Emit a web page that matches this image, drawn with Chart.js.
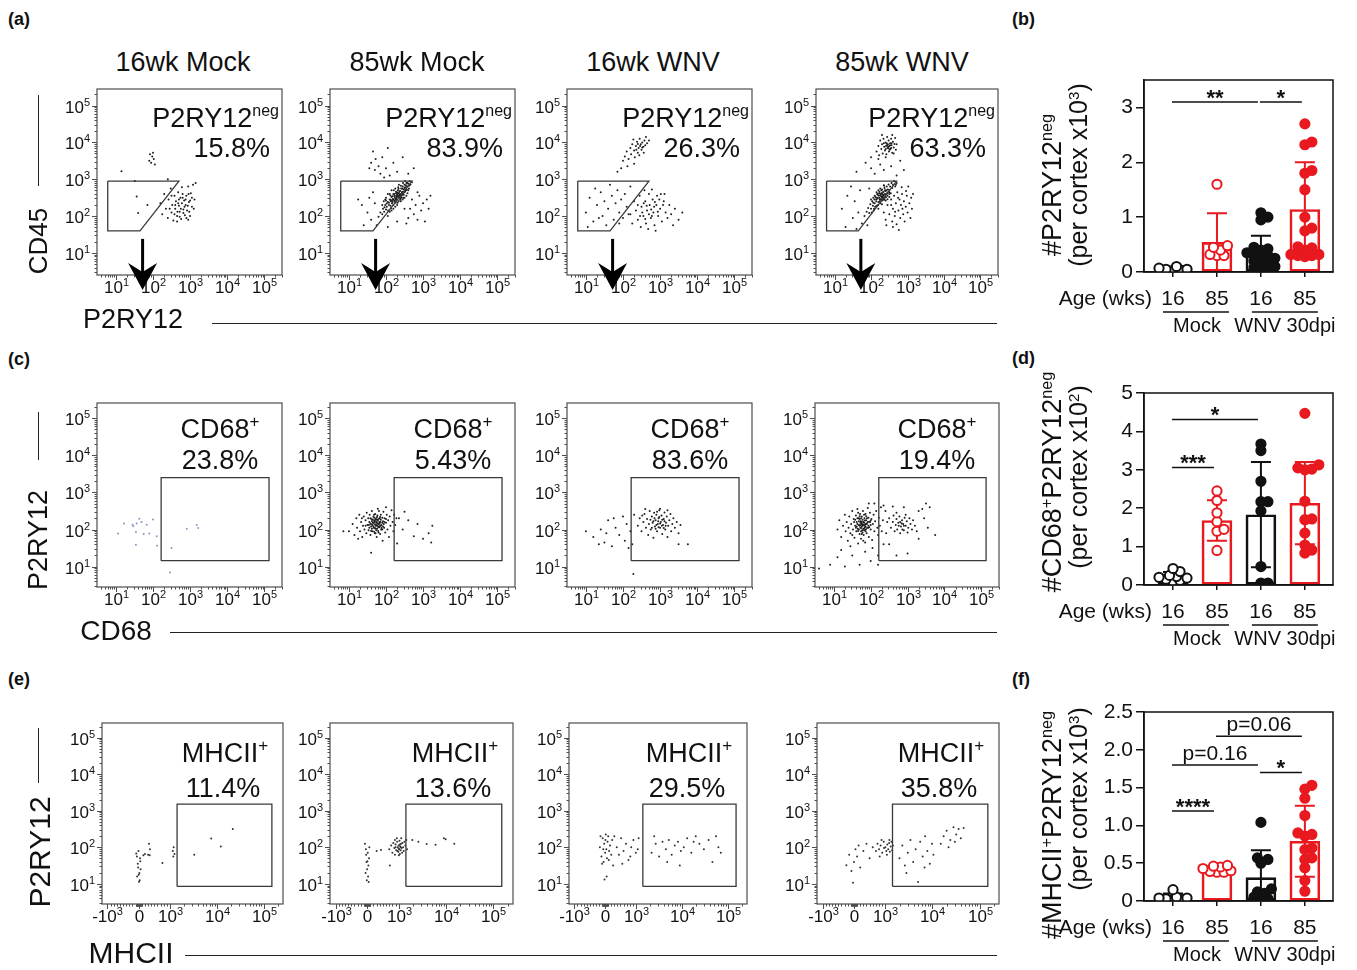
<!DOCTYPE html>
<html>
<head>
<meta charset="utf-8">
<script src="https://cdn.jsdelivr.net/npm/chart.js@4.4.1/dist/chart.umd.min.js"></script>
<style>
  body { margin: 0; background: #fff; width: 1357px; height: 970px; position: relative; overflow: hidden;
         font-family: "Liberation Sans", Arial, sans-serif; color: #111; }
  canvas { position: absolute; z-index: 1; }
  .t { position: absolute; white-space: nowrap; line-height: 1; transform: translate(-50%, -50%); z-index: 2; }
  .rot { transform: translate(-50%, -50%) rotate(-90deg); }
  .panel { position: absolute; font-weight: bold; font-size: 18px; z-index: 2; }
  .hl { position: absolute; height: 0; border-top: 1.5px solid #222; }
  .vl { position: absolute; width: 0; border-left: 1.5px solid #222; }
  sup { font-size: 60%; position: relative; top: -0.55em; vertical-align: baseline; }
</style>
</head>
<body>
<div class="panel" style="left:8px;top:9px">(a)</div>
<div class="panel" style="left:1012px;top:9px">(b)</div>
<div class="panel" style="left:8px;top:349px">(c)</div>
<div class="panel" style="left:1012px;top:348px">(d)</div>
<div class="panel" style="left:8px;top:669px">(e)</div>
<div class="panel" style="left:1012px;top:669px">(f)</div>

<div class="t" style="left:183px;top:62px;font-size:27px">16wk Mock</div>
<div class="t" style="left:417px;top:62px;font-size:27px">85wk Mock</div>
<div class="t" style="left:653px;top:62px;font-size:27px">16wk WNV</div>
<div class="t" style="left:902px;top:62px;font-size:27px">85wk WNV</div>

<div class="vl" style="left:38px;top:95px;height:91px"></div>
<div class="t rot" style="left:38px;top:241px;font-size:26px">CD45</div>
<div class="t" style="left:133px;top:319px;font-size:27px">P2RY12</div>
<div class="hl" style="left:212px;top:323px;width:785px"></div>

<div class="vl" style="left:38px;top:412px;height:48px"></div>
<div class="t rot" style="left:38px;top:540px;font-size:27px">P2RY12</div>
<div class="t" style="left:116px;top:631px;font-size:28px">CD68</div>
<div class="hl" style="left:170px;top:632px;width:827px"></div>

<div class="vl" style="left:38px;top:728px;height:55px"></div>
<div class="t rot" style="left:40px;top:852px;font-size:30px">P2RY12</div>
<div class="t" style="left:131px;top:953px;font-size:30px">MHCII</div>
<div class="hl" style="left:185px;top:955px;width:812px"></div>

<div class="t rot" style="left:1052px;top:185px;font-size:27px">#P2RY12<sup>neg</sup></div>
<div class="t rot" style="left:1078px;top:175px;font-size:25px">(per cortex x10<sup>3</sup>)</div>
<div class="t rot" style="left:1052px;top:482px;font-size:27px">#CD68<sup>+</sup>P2RY12<sup>neg</sup></div>
<div class="t rot" style="left:1078px;top:477px;font-size:25px">(per cortex x10<sup>2</sup>)</div>
<div class="t rot" style="left:1052px;top:825px;font-size:27px">#MHCII<sup>+</sup>P2RY12<sup>neg</sup></div>
<div class="t rot" style="left:1078px;top:799px;font-size:25px">(per cortex x10<sup>3</sup>)</div>

<script>
const FONT = '"Liberation Sans", Arial, sans-serif';
Chart.defaults.font.family = FONT;
Chart.defaults.color = "#111";

// ---- flow cytometry data: [x, y] in log10 intensity (MHCII x in raw units) ----
const groupTitles = ["16wk Mock", "85wk Mock", "16wk WNV", "85wk WNV"];
const pctNeg = ["15.8%", "83.9%", "26.3%", "63.3%"];
const pctCD68 = ["23.8%", "5.43%", "83.6%", "19.4%"];
const pctMHCII = ["11.4%", "13.6%", "29.5%", "35.8%"];

const gateNeg = [[0.78, 2.95], [2.7, 2.95], [1.65, 1.6], [0.78, 1.6], [0.78, 2.95]];
const gateCD68 = [[2.22, 1.16], [5.13, 1.16], [5.13, 3.4], [2.22, 3.4], [2.22, 1.16]];
const gateMHCII = [[1420, 0.93], [150000, 0.93], [150000, 3.18], [1420, 3.18], [1420, 0.93]];

const cd45Mock16 = [
  [1.92,3.68],[1.98,3.62],[2.02,3.55],[1.95,3.45],[2.05,3.4],[1.9,3.5],[2.0,3.72],
  [1.15,3.22],[1.56,2.53],[1.6,2.08],[1.51,2.95],[2.4,3.0],[1.85,2.3],
  [2.2,2.35],[2.25,2.05],[2.3,2.6],[2.35,2.2],[2.4,1.95],[2.42,2.45],[2.48,2.75],[2.5,2.1],[2.52,2.3],
  [2.55,1.88],[2.58,2.55],[2.6,2.2],[2.62,2.4],[2.65,2.0],[2.68,2.65],[2.7,2.28],[2.72,2.12],[2.74,2.5],
  [2.76,1.92],[2.78,2.35],[2.8,2.6],[2.82,2.18],[2.84,2.42],[2.86,2.02],[2.88,2.3],[2.9,2.55],[2.92,2.15],
  [2.95,2.8],[2.97,2.38],[3.0,2.0],[3.02,2.62],[3.05,2.25],[3.08,2.85],[3.12,2.45],[3.15,2.9],[2.65,1.85],
  [2.95,1.9],[2.5,2.55],[2.78,2.78],[3.05,2.5],
  [2.6,2.3],[2.7,2.45],[2.75,2.2],[2.82,2.08],[2.88,2.45],[2.94,2.28],[2.98,2.12],[2.66,2.12],[2.72,1.98],
  [2.85,2.25],[3.0,2.42],[2.58,2.05],[2.9,1.95],[3.1,2.2],[2.45,2.2],[2.8,2.5],[2.68,2.35],[2.96,2.6]
];
const cd45Mock85 = [
  [1.8,1.98],[1.85,2.1],[1.9,2.05],[1.92,2.2],[1.95,2.12],[1.98,2.3],[2.0,2.18],[2.02,2.25],[2.05,2.38],
  [2.06,2.15],[2.08,2.3],[2.1,2.45],[2.12,2.28],[2.13,2.4],[2.15,2.52],[2.16,2.35],[2.18,2.46],[2.2,2.6],
  [2.2,2.3],[2.22,2.42],[2.23,2.55],[2.25,2.48],[2.26,2.36],[2.27,2.62],[2.28,2.5],[2.3,2.44],[2.3,2.58],
  [2.32,2.7],[2.33,2.52],[2.34,2.4],[2.35,2.62],[2.36,2.55],[2.38,2.68],[2.39,2.47],[2.4,2.6],[2.41,2.75],
  [2.42,2.56],[2.44,2.66],[2.45,2.8],[2.46,2.6],[2.48,2.72],[2.5,2.85],[2.5,2.65],[2.52,2.78],[2.54,2.7],
  [2.55,2.9],[2.57,2.8],[2.6,2.88],[2.62,2.75],[2.64,2.95],[2.66,2.85],[2.7,2.92],[2.18,2.38],[2.24,2.52],
  [2.29,2.46],[2.35,2.5],[2.37,2.58],[2.43,2.64],[2.31,2.36],[2.27,2.66],[2.14,2.22],[2.4,2.82],[2.21,2.7],
  [2.47,2.5],[2.58,2.62],[2.12,2.56],[2.05,2.0],[1.98,2.45],[2.52,2.95],[2.33,2.78],
  [2.1,2.6],[2.15,2.7],[2.2,2.2],[2.25,2.75],[2.3,2.3],[2.35,2.85],[2.4,2.4],[2.45,2.45],[2.5,2.5],
  [2.55,2.55],[2.0,2.5],[2.05,2.6],[2.1,2.12],[2.15,2.15],[2.25,2.25],[2.32,2.62],[2.38,2.52],[2.42,2.5],
  [2.28,2.56],[2.24,2.4],[2.36,2.66],[2.44,2.74],[2.48,2.58],[2.52,2.68],[2.56,2.72],[2.6,2.7],[2.62,2.82],
  [2.58,2.9],[2.46,2.9],[2.34,2.74],[2.18,2.54],[2.12,2.44],[2.08,2.36],[2.02,2.34],[1.96,2.24],[1.9,2.3],
  [1.94,2.4],[2.0,2.42],[2.26,2.44],[2.3,2.54],[2.34,2.56],[2.38,2.44],[2.4,2.54],[2.2,2.46],[2.16,2.42],
  [2.22,2.6],[2.3,2.64],[2.44,2.58],[2.5,2.76],[2.54,2.84],
  [1.35,2.3],[1.5,2.1],[1.55,2.5],[1.6,1.9],[1.7,2.35],[1.65,2.65],[1.4,1.75],[1.25,2.45],[1.75,1.75],
  [1.55,3.3],[1.6,3.45],[1.7,3.25],[1.72,3.55],[1.8,3.35],[1.85,3.15],[1.9,3.6],[2.0,3.3],[2.05,3.85],
  [2.1,3.1],[2.2,3.45],[2.3,3.2],[1.95,3.05],[2.45,3.6],[2.6,3.15],[2.75,3.3],[1.65,3.75],
  [2.65,2.2],[2.7,2.45],[2.75,2.05],[2.8,2.3],[2.85,1.9],[2.9,2.55],[2.95,2.15],[3.0,2.35],[3.05,1.85],
  [3.1,2.45],[3.15,2.2],[2.85,2.65],[2.6,1.95],[3.2,2.55],[2.5,2.2],[2.55,1.8],[2.05,1.7],[2.3,1.85]
];
const cd45Wnv16 = [
  [2.0,3.5],[2.05,3.62],[2.1,3.75],[2.15,3.55],[2.2,3.85],[2.22,3.68],[2.25,3.95],[2.3,3.78],[2.32,3.6],
  [2.35,3.9],[2.38,4.02],[2.4,3.72],[2.42,3.85],[2.45,4.1],[2.48,3.95],[2.5,3.8],[2.52,4.0],[2.55,3.88],
  [2.58,4.05],[2.6,3.92],[2.62,4.15],[2.65,3.98],[2.3,3.42],[2.12,3.35],[1.95,3.3],[2.7,4.05],[2.44,3.65],
  [2.56,3.72],[2.28,4.08],[1.85,3.2],[2.36,3.8],[2.46,3.9],[2.52,3.86],[2.4,3.96],
  [1.0,2.1],[1.1,2.5],[1.2,1.85],[1.3,2.3],[1.4,2.65],[1.45,2.0],[1.5,2.4],[1.55,1.75],[1.6,2.2],[1.7,2.55],
  [1.75,1.9],[1.8,2.35],[1.85,2.7],[1.9,2.1],[1.95,2.45],[2.0,1.95],[2.05,2.6],[2.1,2.25],[1.25,2.75],
  [1.65,2.85],[2.2,2.8],[1.05,1.7],[1.35,1.95],[1.9,1.8],[2.15,2.05],
  [2.2,2.05],[2.25,1.8],[2.3,2.4],[2.35,2.15],[2.4,1.9],[2.45,2.55],[2.5,2.25],[2.55,2.0],[2.6,2.4],[2.62,1.8],
  [2.65,2.15],[2.7,2.6],[2.72,2.3],[2.75,1.95],[2.8,2.45],[2.82,2.1],[2.85,1.75],[2.9,2.3],[2.92,2.55],
  [2.95,2.0],[3.0,2.2],[3.05,1.85],[3.1,2.4],[3.15,2.1],[3.2,1.95],[3.25,2.3],[3.3,2.05],[3.4,2.2],[3.5,1.9],
  [3.6,2.1],[2.58,2.7],[2.78,2.72],[3.02,2.6],[2.48,1.7],[2.68,1.65],[2.88,1.6],[3.35,1.75],[2.4,2.3],
  [2.52,2.1],[2.64,2.28],[2.76,2.18],[2.86,2.38],[2.98,2.45],[3.12,2.6],[2.56,2.35],[2.7,2.05],[2.84,2.25],
  [2.94,2.12],[2.6,1.92],[3.08,2.3],[2.46,2.0],[2.78,2.0]
];
const cd45Wnv85 = [
  [2.15,3.75],[2.2,3.9],[2.22,3.65],[2.25,4.05],[2.28,3.82],[2.3,3.95],[2.32,3.7],[2.34,4.1],[2.36,3.88],
  [2.38,3.78],[2.4,4.0],[2.41,3.9],[2.42,3.68],[2.44,4.15],[2.45,3.85],[2.46,3.95],[2.48,4.05],[2.49,3.75],
  [2.5,3.9],[2.52,3.98],[2.53,3.82],[2.55,4.1],[2.56,3.92],[2.58,3.72],[2.6,4.02],[2.62,3.86],[2.64,3.96],
  [2.66,4.12],[2.68,3.8],[2.7,3.95],[2.4,3.6],[2.3,4.2],[2.58,4.2],[2.47,3.88],[2.51,3.8],[2.43,3.97],
  [2.35,3.98],[2.55,3.85],[2.62,3.7],[2.2,3.55],[2.44,3.92],[2.48,3.84],[2.52,3.92],[2.56,3.98],[2.4,3.82],
  [2.0,3.3],[2.1,3.15],[2.25,3.4],[2.35,3.25],[2.55,3.35],[2.7,3.1],[1.85,3.45],[2.0,3.6],[2.8,3.5],
  [1.6,3.2],[2.9,3.25],
  [1.82,2.0],[1.88,2.12],[1.92,2.22],[1.95,2.08],[1.98,2.32],[2.0,2.2],[2.03,2.4],[2.05,2.28],[2.07,2.15],
  [2.09,2.45],[2.1,2.35],[2.12,2.52],[2.14,2.4],[2.15,2.28],[2.17,2.6],[2.18,2.48],[2.2,2.38],[2.21,2.56],
  [2.23,2.66],[2.24,2.45],[2.25,2.55],[2.26,2.35],[2.28,2.62],[2.29,2.5],[2.3,2.72],[2.31,2.42],[2.33,2.58],
  [2.34,2.66],[2.35,2.5],[2.37,2.76],[2.38,2.6],[2.4,2.68],[2.41,2.52],[2.43,2.8],[2.44,2.62],[2.46,2.72],
  [2.48,2.86],[2.5,2.7],[2.52,2.8],[2.54,2.62],[2.56,2.9],[2.58,2.76],[2.6,2.85],[2.63,2.95],[2.66,2.8],
  [2.7,2.9],[2.19,2.3],[2.27,2.44],[2.32,2.54],[2.36,2.44],[2.39,2.58],[2.22,2.5],[2.26,2.6],[2.3,2.5],
  [2.34,2.46],[2.42,2.7],[2.16,2.5],[2.45,2.55],[2.28,2.7],[2.11,2.25],[2.06,2.5],[2.36,2.82],[2.5,2.6],
  [2.02,2.1],[2.2,2.7],[2.1,2.55],[2.15,2.65],[2.2,2.2],[2.25,2.75],[2.3,2.32],[2.35,2.84],[2.4,2.42],
  [2.45,2.46],[2.5,2.52],[2.0,2.45],[2.08,2.2],[2.18,2.58],[2.24,2.4],[2.32,2.64],[2.38,2.5],[2.42,2.6],
  [2.28,2.54],[2.34,2.56],[2.26,2.46],[2.22,2.62],[2.3,2.6],[2.38,2.7],[2.46,2.64],[2.14,2.46],[2.06,2.36],
  [2.35,2.1],[2.4,1.9],[2.45,2.3],[2.5,2.05],[2.55,2.45],[2.58,1.85],[2.6,2.2],[2.63,2.55],[2.65,2.0],
  [2.68,2.35],[2.7,1.78],[2.72,2.65],[2.75,2.15],[2.78,2.45],[2.8,1.95],[2.82,2.3],[2.85,2.6],[2.88,2.05],
  [2.9,2.4],[2.92,1.85],[2.95,2.25],[2.98,2.55],[3.0,2.1],[3.02,2.8],[3.05,2.35],[3.08,1.95],[3.1,2.5],
  [2.5,2.65],[2.68,2.85],[2.84,2.78],[2.96,2.68],[3.12,2.2],[2.42,1.75],[2.6,1.7],[2.76,1.62],[2.55,2.3],
  [2.74,2.5],[2.86,2.2],[2.66,2.12],[3.15,2.6],
  [1.2,2.2],[1.35,2.55],[1.5,1.95],[1.55,2.4],[1.65,2.1],[1.7,2.7],[1.75,1.8],[1.45,2.8],[1.3,1.7],
  [1.6,1.65],[1.9,1.75],[1.95,2.75]
];

const cd68Mock16 = [
  [1.06,1.89],[1.22,2.16],[1.47,2.09],[1.56,2.16],[1.63,2.29],[1.69,2.2],[1.54,1.93],[1.83,2.13],[1.9,1.89],
  [2.0,2.27],[2.1,1.82],[2.11,1.56],[1.54,1.59],[2.5,1.5],[2.91,2.02],[3.18,2.12],[3.22,2.04],[2.46,0.84],
  [1.45,2.13],[1.75,1.88]
];
const cd68Mock85 = [
  [1.0,1.95],[1.1,2.15],[1.15,1.85],[1.2,2.3],[1.22,2.05],[1.28,2.4],[1.3,1.95],[1.33,2.2],[1.36,1.8],
  [1.38,2.1],[1.4,2.35],[1.42,2.0],[1.45,2.25],[1.47,1.9],[1.48,2.45],[1.5,2.12],[1.52,2.3],[1.53,1.98],
  [1.55,2.2],[1.56,2.4],[1.58,1.85],[1.6,2.08],[1.61,2.28],[1.62,2.5],[1.63,1.95],[1.65,2.18],[1.66,2.35],
  [1.67,2.05],[1.68,2.25],[1.7,1.9],[1.7,2.14],[1.71,2.42],[1.72,2.02],[1.73,2.3],[1.74,2.18],[1.75,1.8],
  [1.76,2.1],[1.77,2.38],[1.78,2.24],[1.79,1.96],[1.8,2.14],[1.81,2.5],[1.82,2.06],[1.83,2.3],[1.84,1.88],
  [1.85,2.2],[1.86,2.4],[1.87,2.0],[1.88,2.12],[1.9,2.32],[1.91,1.7],[1.92,2.22],[1.93,2.48],[1.95,2.05],
  [1.96,2.3],[1.98,1.92],[2.0,2.18],[2.02,2.4],[2.04,2.0],[2.06,2.25],[2.08,1.8],[2.1,2.35],[2.12,2.1],
  [2.15,2.52],[2.18,2.2],[2.2,1.95],[2.22,2.4],[2.25,2.12],[2.28,2.3],[1.64,2.12],[1.69,2.2],[1.72,2.1],
  [1.76,2.26],[1.79,2.08],[1.83,2.16],[1.58,2.16],[1.62,2.22],[1.86,2.1],[1.74,1.98],[1.68,2.32],[1.55,2.05],
  [1.9,2.0],[1.45,2.1],[1.94,2.15],[2.0,2.28],[1.35,2.3],[1.25,1.75],[0.85,1.95],[1.78,2.56],[2.0,2.6],
  [1.6,2.14],[1.64,2.26],[1.66,2.08],[1.7,2.04],[1.7,2.22],[1.72,2.26],[1.74,2.12],[1.75,2.2],[1.76,2.02],
  [1.78,2.16],[1.8,2.06],[1.8,2.28],[1.82,2.2],[1.84,2.1],[1.86,2.26],[1.88,2.04],[1.66,2.18],[1.62,2.02],
  [1.58,2.3],[1.68,1.94],[1.9,2.18],[1.92,2.08],[1.76,2.34],[1.72,1.9],[1.84,2.34],[1.54,2.12],[1.96,2.2],
  [1.68,2.4],[1.8,1.92],[1.6,1.96],
  [2.35,2.3],[2.45,2.0],[2.6,2.25],[2.85,2.15],[3.0,1.75],[3.15,1.9],[3.25,2.1],[3.22,1.65],[2.3,1.62],
  [1.6,1.37],[2.75,1.82],[2.5,2.48]
];
const cd68Wnv16 = [
  [2.4,2.1],[2.45,2.3],[2.5,1.95],[2.55,2.2],[2.58,2.42],[2.62,2.05],[2.65,2.28],[2.68,1.85],[2.7,2.15],
  [2.72,2.5],[2.75,2.0],[2.78,2.35],[2.8,2.18],[2.82,1.78],[2.84,2.45],[2.86,2.08],[2.88,2.25],[2.9,2.4],
  [2.92,1.95],[2.94,2.15],[2.96,2.3],[2.98,2.52],[3.0,2.05],[3.02,2.2],[3.04,2.38],[3.06,1.88],[3.08,2.12],
  [3.1,2.28],[3.12,2.46],[3.14,2.0],[3.16,2.18],[3.18,2.35],[3.2,1.8],[3.22,2.1],[3.25,2.25],[3.28,2.42],
  [3.3,1.95],[3.33,2.15],[3.36,2.3],[3.4,2.05],[3.45,2.2],[3.5,1.9],[3.55,2.12],[2.9,2.12],[3.0,2.16],
  [2.95,2.22],[2.85,2.3],[3.05,2.1],[2.78,2.05],[3.12,2.22],[2.92,2.48],[3.0,2.56],[2.6,2.55],[3.2,2.52],
  [2.52,2.38],[2.96,2.06],[3.06,2.26],[2.88,2.02],[3.1,2.04],[2.82,2.22],[2.98,2.34],[3.15,2.1],[2.74,2.26],
  [1.0,1.95],[1.2,1.8],[1.4,2.0],[1.5,1.65],[1.6,2.25],[1.7,1.55],[1.8,2.05],[1.9,1.85],[2.0,2.35],
  [2.05,1.7],[2.1,2.15],[2.2,1.95],[2.25,1.6],[2.3,2.4],[1.75,2.3],[1.55,1.9],[2.15,1.5],[1.35,1.6],
  [2.28,0.8],[3.75,1.6],[3.5,1.6]
];
const cd68Wnv85 = [
  [1.1,2.0],[1.15,2.25],[1.2,1.8],[1.25,2.1],[1.3,2.4],[1.32,1.95],[1.35,2.2],[1.38,1.7],[1.4,2.05],
  [1.42,2.35],[1.45,1.9],[1.47,2.15],[1.5,2.5],[1.52,2.0],[1.54,2.28],[1.56,1.78],[1.58,2.1],[1.6,2.38],
  [1.61,1.95],[1.62,2.2],[1.64,2.55],[1.65,2.02],[1.66,1.62],[1.67,2.3],[1.68,2.12],[1.7,1.88],[1.71,2.42],
  [1.72,2.05],[1.73,2.22],[1.74,1.75],[1.75,2.15],[1.76,2.35],[1.77,1.98],[1.78,2.1],[1.79,2.5],[1.8,2.2],
  [1.81,1.85],[1.82,2.02],[1.83,2.3],[1.84,2.12],[1.85,1.65],[1.86,2.42],[1.87,2.0],[1.88,2.25],[1.89,1.9],
  [1.9,2.15],[1.92,2.58],[1.93,2.05],[1.94,2.32],[1.95,1.8],[1.96,2.2],[1.98,2.45],[2.0,2.0],[2.02,2.28],
  [2.04,1.72],[2.06,2.15],[2.08,2.4],[2.1,1.95],[2.12,2.22],[2.15,2.5],[2.18,2.05],[2.2,1.85],[2.22,2.32],
  [2.25,2.1],[2.28,2.6],[2.3,1.95],[2.33,2.25],[1.76,2.08],[1.8,2.12],[1.72,2.18],[1.84,2.06],[1.68,2.0],
  [1.88,2.16],[1.78,2.26],[1.74,1.95],[1.82,2.4],[1.64,2.15],[1.9,2.3],[1.7,2.28],[1.86,1.95],[1.6,2.05],
  [1.94,2.1],[1.66,2.45],[1.98,2.2],[1.55,2.2],[2.0,2.12],[1.5,1.85],[1.8,1.7],[2.05,1.5],[1.45,1.55],
  [1.7,2.1],[1.74,2.04],[1.76,2.2],[1.78,2.14],[1.8,2.02],[1.82,2.18],[1.84,2.24],[1.86,2.08],[1.72,2.12],
  [1.68,2.22],[1.9,2.04],[1.92,2.2],[1.62,2.08],[1.66,1.96],[1.78,1.92],[1.88,2.36],[1.96,2.06],[1.58,2.26],
  [1.7,2.36],[1.82,1.98],[1.64,2.3],[2.0,2.24],[1.76,1.88],[1.86,2.14],[1.74,2.3],
  [2.5,2.3],[2.55,2.05],[2.6,2.2],[2.62,2.38],[2.65,1.95],[2.68,2.12],[2.7,2.28],[2.72,2.0],[2.75,2.18],
  [2.78,2.35],[2.8,1.9],[2.82,2.08],[2.85,2.25],[2.88,2.15],[2.9,1.98],[2.92,2.32],[2.95,2.1],[2.98,2.22],
  [3.0,1.92],[3.02,2.05],[3.05,2.3],[3.08,2.15],[3.12,2.0],[3.15,2.25],[3.2,2.1],[3.25,1.95],[2.76,2.1],
  [2.86,2.0],[2.7,2.45],[2.95,2.4],[2.4,2.5],[2.45,2.2],[2.42,1.9],[2.8,2.2],[2.9,2.1],[2.84,2.16],
  [0.6,0.95],[0.9,1.05],[1.1,1.25],[1.3,1.0],[1.5,1.3],[1.7,1.05],[1.85,1.4],[2.0,1.15],[2.2,1.3],
  [2.35,1.6],[1.2,1.45],[2.5,1.6],[2.7,1.3],[3.0,1.35],[2.2,1.05],
  [3.3,2.5],[3.45,2.3],[3.6,2.6],[3.55,2.05],[3.75,1.85],[3.4,2.55],[3.5,2.7],[2.9,2.6],[3.3,1.75],
  [2.1,2.7],[2.35,2.65],[2.6,2.62],[1.95,2.7]
];

const mhcMock16 = [
  [-80,1.83],[40,1.7],[-30,1.55],[60,1.4],[20,1.3],[-50,1.2],[30,1.1],[10,1.06],[-20,1.45],[50,1.62],
  [-60,1.75],[0,1.25],[330,2.1],[360,1.95],[350,1.78],[300,1.8],[760,1.57],[1150,1.9],[1180,1.75],
  [1250,1.82],[1200,2.0],[3300,1.8],[7600,2.24],[12200,2.02],[22000,2.5],[150,1.78],[-10,1.9],[200,1.82]
];
const mhcMock85 = [
  [-70,2.1],[-40,1.95],[20,1.85],[60,1.7],[-20,1.6],[40,1.5],[0,1.4],[-50,1.3],[30,1.2],[-10,1.1],
  [50,1.05],[-30,1.8],[10,1.62],[70,2.0],
  [700,1.95],[760,2.05],[800,1.85],[830,2.12],[860,1.98],[880,1.8],[900,2.08],[920,1.92],[950,2.15],
  [970,2.0],[990,1.88],[1000,2.05],[1020,1.95],[1040,2.18],[1060,1.82],[1080,2.02],[1100,1.92],[1120,2.1],
  [1150,1.98],[1180,1.85],[1200,2.12],[1240,2.0],[1280,1.9],[1320,2.15],[1380,2.05],[1450,2.2],[1500,1.95],
  [940,2.25],[1010,1.78],[880,2.2],[1130,2.25],[1060,2.08],[960,1.9],[1000,1.96],[1100,2.0],[900,2.0],
  [720,1.5],[440,1.93],[1940,2.2],[3900,2.09],[6000,2.07],[9000,2.25],[9800,2.22],[14900,2.1],[300,1.9],
  [2600,2.15]
];
const mhcWnv16 = [
  [-170,2.0],[-120,1.75],[-80,2.25],[-50,1.6],[-30,2.1],[0,1.85],[20,2.35],[40,1.95],[60,1.7],[80,2.15],
  [100,2.3],[130,1.9],[160,2.05],[200,1.8],[230,2.2],[260,1.5],[300,2.3],[-100,1.55],[-60,1.95],[10,2.2],
  [-150,2.3],[120,1.65],[50,1.2],[-20,1.12],
  [380,2.0],[450,1.8],[520,2.25],[600,1.9],[680,2.1],[760,1.65],[850,2.0],[920,2.2],[1000,1.85],
  [1100,1.95],[560,1.55],[820,1.75],[1150,2.25],
  [2200,1.85],[2700,2.1],[3200,1.75],[3800,2.15],[4500,1.95],[5200,2.2],[6000,1.8],[7000,2.05],[8200,2.15],
  [9500,1.9],[11000,2.0],[13000,2.25],[16000,1.85],[20000,2.3],[24000,2.1],[30000,1.95],[38000,2.2],
  [46000,1.6],[55000,2.3],[62000,2.0],[70000,1.85],[4800,1.6],[2500,2.3],[18000,2.15],[9000,1.5]
];
const mhcWnv85 = [
  [-240,1.51],[-150,1.8],[-30,1.03],[-80,1.35],[0,1.6],[50,1.95],[100,1.75],[150,2.05],[200,1.45],
  [300,1.9],[400,2.1],[500,1.7],[600,2.0],
  [700,1.9],[750,2.1],[800,1.95],[850,2.05],[900,1.85],[950,2.15],[1000,2.0],[1050,1.9],[1100,2.08],
  [1150,1.95],[1200,2.12],[1250,1.88],[1300,2.02],[1350,2.15],[1400,1.92],[1450,2.05],[880,2.2],[1080,1.8],
  [1220,2.2],[960,1.98],[820,1.75],
  [2000,1.7],[2300,2.05],[2600,1.5],[3000,1.85],[3400,2.2],[3900,1.6],[4400,1.95],[4950,1.05],[5500,2.15],
  [6200,1.75],[7000,2.3],[7800,1.9],[8800,1.55],[9800,2.1],[10500,1.8],[2800,1.3],[6800,1.45],
  [15000,2.1],[17300,2.3],[20000,2.45],[24000,2.2],[28000,2.55],[32000,2.35],[36000,2.5],[40000,2.25],
  [46000,2.53],[30000,2.15],[22000,2.0]
];

// ---- bar chart data ----
const ageLabels = ["16", "85", "16", "85"];
const infection = ["Mock", "WNV 30dpi"];
const groupColors = ["#111111", "#e8191f", "#111111", "#e8191f"];
const groupFilled = [false, false, true, true];

const negMean = [0.05, 0.54, 0.33, 1.14];
const negSd = [0.03, 0.53, 0.33, 0.86];
const negPts = [
  [0.1, 0.07, 0.05, 0.05, 0.04, 0.03],
  [1.6, 0.48, 0.45, 0.4, 0.32, 0.3, 0.3],
  [1.08, 1.0, 0.95, 0.45, 0.42, 0.4, 0.35, 0.32, 0.3, 0.28, 0.25, 0.2, 0.18, 0.15, 0.1, 0.08, 0.05, 0.03],
  [2.7, 2.37, 2.32, 1.85, 1.8, 1.5, 1.0, 0.8, 0.75, 0.46, 0.44, 0.4, 0.32, 0.32, 0.3, 0.3, 0.28]
];
const negTicks = [0, 1, 2, 3];

const cd68Mean = [0.22, 1.68, 1.83, 2.13];
const cd68Sd = [0.12, 0.53, 1.37, 1.07];
const cd68Pts = [
  [0.43, 0.35, 0.25, 0.22, 0.2, 0.18, 0.15, 0.12, 0.1],
  [2.45, 2.2, 1.88, 1.65, 1.45, 1.4, 0.9],
  [3.67, 3.5, 2.7, 2.17, 2.17, 1.93, 0.48, 0.05, 0.05],
  [4.47, 3.13, 3.05, 3.02, 3.0, 2.18, 1.72, 1.7, 1.35, 1.04, 0.91, 0.83]
];
const cd68Ticks = [0, 1, 2, 3, 4, 5];

const mhcMean = [0.05, 0.42, 0.31, 0.79];
const mhcSd = [0.05, 0.04, 0.36, 0.47];
const mhcPts = [
  [0.15, 0.05, 0.04, 0.04, 0.03, 0.03, 0.02],
  [0.47, 0.46, 0.45, 0.43, 0.4, 0.39, 0.38, 0.38],
  [1.04, 0.57, 0.55, 0.5, 0.16, 0.12, 0.1, 0.05, 0.03, 0.03],
  [1.53, 1.48, 1.36, 1.13, 0.9, 0.88, 0.86, 0.7, 0.68, 0.57, 0.55, 0.44, 0.27, 0.13]
];
const mhcTicks = [0, 0.5, 1.0, 1.5, 2.0, 2.5];

const negSig = [{ a: 0, b: 2, y: 3.1, t: "**" }, { a: 2, b: 3, y: 3.1, t: "*" }];
const cd68Sig = [{ a: 0, b: 2, y: 4.31, t: "*" }, { a: 0, b: 1, y: 3.06, t: "***" }];
const mhcSig = [
  { a: 0, b: 1, y: 1.19, t: "****" }, { a: 0, b: 2, y: 1.8, t: "p=0.16" },
  { a: 2, b: 3, y: 1.7, t: "*" }, { a: 1, b: 3, y: 2.18, t: "p=0.06" }
];

// ---- biexponential (logicle-like) axis for MHCII ----
function biexT(v) {
  const a = Math.abs(v);
  if (a <= 1000) return v / 1000;
  const t = 1 + 1.5 * Math.log10(a / 1000);
  return v < 0 ? -t : t;
}
function biexInv(t) {
  const a = Math.abs(t);
  if (a <= 1) return t * 1000;
  const v = 1000 * Math.pow(10, (a - 1) / 1.5);
  return t < 0 ? -v : v;
}
class BiexScale extends Chart.LinearScale {
  getPixelForValue(v) {
    const t0 = biexT(this.min), t1 = biexT(this.max);
    return this.getPixelForDecimal((biexT(v) - t0) / (t1 - t0));
  }
  getValueForPixel(p) {
    const t0 = biexT(this.min), t1 = biexT(this.max);
    return biexInv(t0 + this.getDecimalForPixel(p) * (t1 - t0));
  }
}
BiexScale.id = "biex";
BiexScale.defaults = Chart.LinearScale.defaults;
Chart.register(BiexScale);

function addCanvas(left, top, w, h) {
  const c = document.createElement("canvas");
  c.width = w; c.height = h;
  c.style.left = left + "px"; c.style.top = top + "px";
  document.body.appendChild(c);
  return c;
}

function seg(ctx, x1, y1, x2, y2) {
  ctx.beginPath(); ctx.moveTo(x1, y1); ctx.lineTo(x2, y2); ctx.stroke();
}

// text with a raised smaller part; y is baseline
function supText(ctx, x, y, main, sup, size, supSize, rise, align) {
  ctx.font = `${size}px ${FONT}`;
  const wm = ctx.measureText(main).width;
  ctx.font = `${supSize}px ${FONT}`;
  const ws = sup ? ctx.measureText(sup).width : 0;
  const w = wm + ws;
  const x0 = align === "right" ? x - w : align === "center" ? x - w / 2 : x;
  ctx.textAlign = "left"; ctx.textBaseline = "alphabetic";
  ctx.font = `${size}px ${FONT}`;
  ctx.fillText(main, x0, y);
  if (sup) {
    ctx.font = `${supSize}px ${FONT}`;
    ctx.fillText(sup, x0 + wm, y - rise);
  }
}

const biexMinor = [];
[10, 100].forEach((s) => { for (let k = 1; k <= 9; k++) { biexMinor.push(k * s, -k * s); } });
[1000, 10000, 100000].forEach((s) => { for (let k = 2; k <= 9; k++) biexMinor.push(k * s); });

function flowPlugin(info) {
  return {
    id: "flowAxes",
    afterDraw(chart) {
      const { ctx, chartArea: a, scales } = chart;
      const xs = scales.x, ys = scales.y;
      ctx.save();
      ctx.strokeStyle = "#4d4d4d";
      ctx.lineWidth = 1.2;
      ctx.strokeRect(a.left, a.top, a.right - a.left, a.bottom - a.top);
      ctx.lineWidth = 1;
      ctx.fillStyle = "#111";
      for (let n = 0; n <= 5; n++) {
        for (let k = 1; k <= 9; k++) {
          const v = n + Math.log10(k);
          if (v < ys.min || v > ys.max) continue;
          const py = Math.round(ys.getPixelForValue(v)) + 0.5;
          seg(ctx, a.left - (k === 1 ? 5 : 2.5), py, a.left, py);
          if (k === 1 && n > 0) supText(ctx, a.left - 7, py + 6, "10", String(n), 17, 11, 7, "right");
        }
      }
      if (info.biex) {
        biexMinor.forEach((v) => {
          if (v <= xs.min || v >= xs.max) return;
          const px = Math.round(xs.getPixelForValue(v)) + 0.5;
          seg(ctx, px, a.bottom, px, a.bottom + 2.5);
        });
        [[-1000, "-10", "3"], [0, "0", ""], [1000, "10", "3"], [10000, "10", "4"], [100000, "10", "5"]].forEach(([v, m, s]) => {
          const px = Math.round(xs.getPixelForValue(v)) + 0.5;
          seg(ctx, px, a.bottom, px, a.bottom + 5);
          supText(ctx, px, a.bottom + 18, m, s, 17, 11, 7, "center");
        });
      } else {
        for (let n = 0; n <= 5; n++) {
          for (let k = 1; k <= 9; k++) {
            const v = n + Math.log10(k);
            if (v < xs.min || v > xs.max) continue;
            const px = Math.round(xs.getPixelForValue(v)) + 0.5;
            seg(ctx, px, a.bottom, px, a.bottom + (k === 1 ? 5 : 2.5));
            if (k === 1 && n > 0) supText(ctx, px, a.bottom + 18, "10", String(n), 17, 11, 7, "center");
          }
        }
      }
      // gate annotation
      ctx.fillStyle = "#111";
      if (info.kind === "neg") {
        supText(ctx, a.right - 3, a.top + 38, "P2RY12", "neg", 27, 16, 11, "right");
        supText(ctx, a.right - 12, a.top + 68, info.pct, "", 27, 16, 0, "right");
      } else if (info.kind === "cd68") {
        supText(ctx, a.right - 62, a.top + 35, "CD68", "+", 27, 17, 11, "center");
        supText(ctx, a.right - 62, a.top + 66, info.pct, "", 27, 16, 0, "center");
      } else {
        supText(ctx, a.right - 58, a.top + 39, "MHCII", "+", 27, 17, 11, "center");
        supText(ctx, a.right - 60, a.top + 74, info.pct, "", 27, 16, 0, "center");
      }
      if (info.arrow) {
        const px = xs.getPixelForValue(1.72);
        const top = ys.getPixelForValue(1.38);
        const tip = a.bottom + 15;
        ctx.strokeStyle = "#000"; ctx.fillStyle = "#000"; ctx.lineWidth = 3;
        seg(ctx, px, top, px, tip - 16);
        ctx.beginPath();
        ctx.moveTo(px, tip);
        ctx.lineTo(px - 14.5, tip - 27);
        ctx.lineTo(px, tip - 18);
        ctx.lineTo(px + 14.5, tip - 27);
        ctx.closePath();
        ctx.fill();
      }
      ctx.restore();
    }
  };
}

function flowChart(box, pts, gate, info) {
  const c = addCanvas(box.l - 50, box.t - 4, box.w + 56, box.h + 38);
  return new Chart(c, {
    type: "scatter",
    data: {
      datasets: [
        {
          data: gate.map((p) => ({ x: p[0], y: p[1] })),
          showLine: true, pointRadius: 0, borderColor: "#3a3a3a", borderWidth: 1.3, order: 0
        },
        {
          data: pts.map((p) => ({ x: p[0], y: p[1] })),
          pointRadius: 1, pointBorderWidth: 0, pointBackgroundColor: info.dot, order: 1
        }
      ]
    },
    plugins: [flowPlugin(info)],
    options: {
      responsive: false, animation: false, events: [],
      layout: { padding: { left: 50, top: 4, right: 6, bottom: 34 } },
      plugins: { legend: { display: false }, tooltip: { enabled: false } },
      scales: {
        x: { type: info.biex ? "biex" : "linear", min: box.xMin, max: box.xMax, display: false },
        y: { type: "linear", min: box.yMin, max: box.yMax, display: false }
      }
    }
  });
}

const rowA = { lefts: [97, 330, 567, 816], widths: [185, 185, 185, 182], t: 89, h: 186, yMin: 0.40, yMax: 5.45, xMin: 0.49, xMax: 5.48 };
const rowC = { lefts: [97, 330, 567, 815], widths: [185, 185, 185, 184], t: 403, h: 184, yMin: 0.45, yMax: 5.41, xMin: 0.49, xMax: 5.48 };
const rowE = { lefts: [102, 330, 569, 817], widths: [181, 183, 178, 182], t: 723, h: 181, yMin: 0.45, yMax: 5.40, xMin: -1310, xMax: 259000 };
const boxOf = (row, i) => ({ l: row.lefts[i], w: row.widths[i], t: row.t, h: row.h, yMin: row.yMin, yMax: row.yMax, xMin: row.xMin, xMax: row.xMax });

[cd45Mock16, cd45Mock85, cd45Wnv16, cd45Wnv85].forEach((pts, i) =>
  flowChart(boxOf(rowA, i), pts, gateNeg, { kind: "neg", pct: pctNeg[i], arrow: true, dot: "#1e1e1e" }));
[cd68Mock16, cd68Mock85, cd68Wnv16, cd68Wnv85].forEach((pts, i) =>
  flowChart(boxOf(rowC, i), pts, gateCD68, { kind: "cd68", pct: pctCD68[i], dot: i === 0 ? "#8c94c8" : "#1e1e1e" }));
[mhcMock16, mhcMock85, mhcWnv16, mhcWnv85].forEach((pts, i) =>
  flowChart(boxOf(rowE, i), pts, gateMHCII, { kind: "mhc", pct: pctMHCII[i], biex: true, dot: "#333333" }));

// ---- bar + dot panels ----
// horizontal spread of dots inside a column, allowing some overlap like the original
function swarm(vals, idx, pxPerUnit) {
  const pxX = 44, gap = 6, step = 3.5, maxOff = 17;
  const cands = [0];
  for (let o = step; o <= maxOff; o += step) cands.push(o, -o);
  const placed = [];
  const order = vals.map((v, k) => k).sort((p, q) => vals[p] - vals[q]);
  return order.map((k) => {
    const y = vals[k] * pxPerUnit;
    let off = null, best = -1, bestOff = 0;
    for (const c of cands) {
      const d = placed.length ? Math.min(...placed.map((p) => Math.hypot(p[0] - c, p[1] - y))) : Infinity;
      if (d >= gap) { off = c; break; }
      if (d > best) { best = d; bestOff = c; }
    }
    if (off === null) off = bestOff;
    placed.push([off, y]);
    return { x: idx + off / pxX, y: vals[k] };
  });
}

function barPlugin(cfg) {
  return {
    id: "barDecor",
    afterDatasetDraw(chart, args) {
      if (args.meta.type !== "bar") return;
      const { ctx, scales: { x, y } } = chart;
      ctx.save();
      ctx.lineWidth = 2;
      cfg.means.forEach((m, i) => {
        const px = x.getPixelForValue(i);
        const hi = y.getPixelForValue(m + cfg.sds[i]);
        const lo = y.getPixelForValue(Math.max(0, m - cfg.sds[i]));
        ctx.strokeStyle = groupColors[i];
        ctx.beginPath();
        ctx.moveTo(px, lo); ctx.lineTo(px, hi);
        ctx.moveTo(px - 10, hi); ctx.lineTo(px + 10, hi);
        if (m - cfg.sds[i] > 0.03 * cfg.yMax) { ctx.moveTo(px - 10, lo); ctx.lineTo(px + 10, lo); }
        ctx.stroke();
      });
      ctx.restore();
    },
    afterDraw(chart) {
      const { ctx, chartArea: a, scales: { x, y } } = chart;
      ctx.save();
      ctx.strokeStyle = "#111"; ctx.lineWidth = 1.5;
      ctx.strokeRect(a.left, a.top, a.right - a.left, a.bottom - a.top);
      ctx.fillStyle = "#111";
      ctx.textBaseline = "middle";
      ctx.font = `21px ${FONT}`;
      ctx.textAlign = "right";
      ctx.fillText("Age (wks)", a.left + 8, a.bottom + 27);
      ctx.textAlign = "center";
      ageLabels.forEach((l, i) => ctx.fillText(l, x.getPixelForValue(i), a.bottom + 27));
      ctx.lineWidth = 1.5;
      seg(ctx, x.getPixelForValue(0) - 10, a.bottom + 40, x.getPixelForValue(1) + 12, a.bottom + 40);
      seg(ctx, x.getPixelForValue(2) - 9, a.bottom + 40, x.getPixelForValue(3) + 13, a.bottom + 40);
      ctx.font = `20px ${FONT}`;
      ctx.fillText(infection[0], (x.getPixelForValue(0) + x.getPixelForValue(1)) / 2 + 2, a.bottom + 54);
      ctx.fillText(infection[1], (x.getPixelForValue(2) + x.getPixelForValue(3)) / 2 + 2, a.bottom + 54);
      cfg.sig.forEach((s) => {
        const x1 = x.getPixelForValue(s.a) - 1, x2 = x.getPixelForValue(s.b) - 3;
        const py = y.getPixelForValue(s.y);
        ctx.lineWidth = 1.5;
        seg(ctx, x1, py, x2, py);
        ctx.textBaseline = "alphabetic";
        const star = s.t.startsWith("*");
        ctx.font = star ? `bold 22px ${FONT}` : `21px ${FONT}`;
        ctx.fillText(s.t, (x1 + x2) / 2, star ? py + 3 : py - 5);
      });
      ctx.restore();
    }
  };
}

function barChart(top, frameTop, frameBottom, height, cfg) {
  const c = addCanvas(1040, top, 317, height);
  const pxPerUnit = (frameBottom - frameTop) / cfg.yMax;
  const dotSets = cfg.pts.map((vals, i) => ({
    type: "scatter",
    data: swarm(vals, i, pxPerUnit),
    pointRadius: 4.6, pointBorderWidth: 2,
    pointBorderColor: groupColors[i],
    pointBackgroundColor: groupFilled[i] ? groupColors[i] : "#ffffff",
    order: 0
  }));
  return new Chart(c, {
    type: "scatter",
    data: {
      datasets: [
        ...dotSets,
        {
          type: "bar",
          data: cfg.means.map((m, i) => ({ x: i, y: m })),
          backgroundColor: "rgba(255,255,255,0)",
          borderColor: groupColors, borderWidth: 2, borderSkipped: false,
          barThickness: 30, order: 5
        }
      ]
    },
    plugins: [barPlugin(cfg)],
    options: {
      responsive: false, animation: false, events: [],
      layout: { padding: { left: 0, top: frameTop - top, right: 24, bottom: top + height - frameBottom - 10 } },
      plugins: { legend: { display: false }, tooltip: { enabled: false } },
      scales: {
        x: {
          type: "linear", min: -0.66, max: 3.64, offset: false,
          afterBuildTicks: (s) => { s.ticks = ageLabels.map((l, i) => ({ value: i })); },
          afterFit: (s) => { s.height = 10; },
          ticks: { display: false },
          grid: { offset: false, drawOnChartArea: false, tickLength: 5, color: "#111", lineWidth: 1.5 },
          border: { color: "#111", width: 1.5 }
        },
        y: {
          type: "linear", min: 0, max: cfg.yMax,
          afterBuildTicks: (s) => { s.ticks = cfg.ticks.map((v) => ({ value: v })); },
          afterFit: (s) => { s.width = 104; },
          ticks: { font: { size: 21 }, color: "#111", padding: 3, callback: cfg.fmt },
          grid: { drawOnChartArea: false, tickLength: 8, color: "#111", lineWidth: 1.5 },
          border: { color: "#111", width: 1.5 }
        }
      }
    }
  });
}

barChart(60, 80, 272, 280, { yMax: 3.5, ticks: negTicks, fmt: (v) => String(v), means: negMean, sds: negSd, pts: negPts, sig: negSig });
barChart(373, 393, 585, 280, { yMax: 5, ticks: cd68Ticks, fmt: (v) => String(v), means: cd68Mean, sds: cd68Sd, pts: cd68Pts, sig: cd68Sig });
barChart(692, 712, 901, 278, { yMax: 2.5, ticks: mhcTicks, fmt: (v) => (v === 0 ? "0" : v.toFixed(1)), means: mhcMean, sds: mhcSd, pts: mhcPts, sig: mhcSig });
</script>
</body>
</html>
